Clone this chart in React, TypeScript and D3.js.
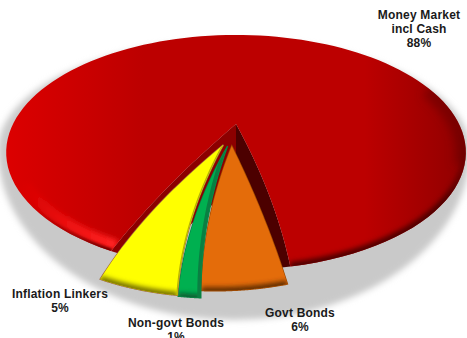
import React from "react";
import * as d3 from "d3";

// Portfolio allocation, clockwise from the lower left of the disc
const categories = ["Money Market incl Cash", "Govt Bonds", "Non-govt Bonds", "Inflation Linkers"];
const shares = [88, 6, 1, 5];

const W = 467;
const H = 338;
const deg = Math.PI / 180;
const START = 206;

// Perspective projection of the unit disc onto the page
const CX = 236;
const CY = 124;
const SX = 223;
const SY = 110.6;
const K = 0.242;
type Pt = [number, number];
const project = (u: number, v: number): Pt => {
  const w = 1 - K * v;
  return [CX + (SX * u) / w, CY + (SY * v) / w];
};

const pie = d3
  .pie<number>()
  .sort(null)
  .value((d) => d)
  .startAngle(START * deg)
  .endAngle((START + 360) * deg);
const arcs = pie(shares);

type Look = {
  au: number; // apex offset on the disc
  av: number;
  du: number; // rim offset on the disc
  dv: number;
  r: number;
  inA: number;
  inB: number;
  bowA: number; // sideways bulge of the two straight sides, in pixels
  bowB: number;
  fill: string;
  wall: string;
  rim: string;
};

const looks: Look[] = [
  { au: 0, av: 0, du: 0, dv: 0, r: 1, inA: 0, inB: -6.5, bowA: -6, bowB: 6, fill: "#c00000", wall: "#4c0000", rim: "#500000" },
  { au: -0.018, av: 0.19, du: -0.07, dv: 0.215, r: 0.89, inA: 1.5, inB: 1.6, bowA: 3, bowB: -7, fill: "#e46c0a", wall: "#a04a00", rim: "#5a2a00" },
  { au: -0.036, av: 0.19, du: -0.06, dv: 0.25, r: 0.89, inA: -0.9, inB: -0.3, bowA: -7, bowB: -9, fill: "#00b050", wall: "#0a7f42", rim: "#0a5a30" },
  { au: -0.054, av: 0.18, du: -0.07, dv: 0.245, r: 0.89, inA: -0.2, inB: 0.4, bowA: -9, bowB: -10, fill: "#ffff00", wall: "#b8b400", rim: "#6f6a00" },
];

const line = d3.line<Pt>().curve(d3.curveLinear);

const arcPoints = (a0: number, a1: number, l: Look): Pt[] =>
  d3.range(0, 1.0001, 1 / 120).map((t) => {
    const a = a0 + (a1 - a0) * t;
    return project(l.du + l.r * Math.sin(a), l.dv - l.r * Math.cos(a));
  });

// A side of a slice, bulging sideways between apex and rim
const side = (from: Pt, to: Pt, bow: number): Pt[] =>
  d3.range(0, 1.0001, 1 / 30).map((t) => [
    from[0] + (to[0] - from[0]) * t + bow * 4 * t * (1 - t),
    from[1] + (to[1] - from[1]) * t,
  ]);

const outline = (i: number): { a: Pt; rim: Pt[]; sa: Pt[]; sb: Pt[] } => {
  const l = looks[i];
  const rim = arcPoints(arcs[i].startAngle + l.inA * deg, arcs[i].endAngle - l.inB * deg, l);
  const a = project(l.au, l.av);
  return { a, rim, sa: side(a, rim[0], l.bowA), sb: side(a, rim[rim.length - 1], l.bowB) };
};

const wedge = (i: number): string => {
  const o = outline(i);
  return (line([...o.sa, ...o.rim, ...[...o.sb].reverse()]) as string) + "Z";
};

const arcRange = (fromDeg: number, toDeg: number, r = 1): string =>
  line(arcPoints(fromDeg * deg, toDeg * deg, { ...looks[0], r })) as string;

// Full disc outline and the walls of the notch left by the exploded slices
const fullDisc = (line(arcPoints(0, 2 * Math.PI, looks[0])) as string) + "Z";
const DEPTH = 60;
const wallPath = (edge: Pt[]): string =>
  (line([...edge, ...[...edge].reverse().map((p): Pt => [p[0], p[1] + DEPTH])]) as string) + "Z";

const shadow = "M-2,150 A236,170 0 0 0 470,150 A236,110 0 0 0 -2,150 Z";

const labels = [
  { lines: ["Money Market", "incl Cash", "88%"], x: 419, y: 19 },
  { lines: ["Inflation Linkers", "5%"], x: 60, y: 298 },
  { lines: ["Non-govt Bonds", "1%"], x: 176, y: 327 },
  { lines: ["Govt Bonds", "6%"], x: 300, y: 317 },
];

export default function App() {
  const red = outline(0);
  const redEnd = START + shares[0] * 3.6 - looks[0].inB;
  return (
    <svg
      width={W}
      height={H}
      viewBox={`0 0 ${W} ${H}`}
      style={{ position: "absolute", left: 0, top: 0, background: "#fff" }}
    >
      <defs>
        <filter id="soft" x="-10%" y="-10%" width="120%" height="120%">
          <feGaussianBlur stdDeviation="3" />
        </filter>
        <filter id="bevel" filterUnits="userSpaceOnUse" x="-20" y="-20" width="510" height="380">
          <feGaussianBlur stdDeviation="2.4" />
        </filter>
        <filter id="wide" filterUnits="userSpaceOnUse" x="-20" y="-20" width="510" height="380">
          <feGaussianBlur stdDeviation="5" />
        </filter>
        <filter id="tight" filterUnits="userSpaceOnUse" x="-20" y="-20" width="510" height="380">
          <feGaussianBlur stdDeviation="1.3" />
        </filter>
        <linearGradient id="redFace" x1="0" y1="0" x2="1" y2="0">
          <stop offset="0" stopColor="#dc0000" />
          <stop offset="0.3" stopColor="#bc0000" />
          <stop offset="0.78" stopColor="#bc0000" />
          <stop offset="1" stopColor="#900000" />
        </linearGradient>
        <linearGradient id="redGlow" gradientUnits="userSpaceOnUse" x1="20" y1="0" x2="110" y2="0">
          <stop offset="0" stopColor="#f01010" stopOpacity="0" />
          <stop offset="0.5" stopColor="#f41414" stopOpacity="0.8" />
          <stop offset="1" stopColor="#ff2020" />
        </linearGradient>
        <linearGradient id="redEdge" gradientUnits="userSpaceOnUse" x1="30" y1="0" x2="110" y2="0">
          <stop offset="0" stopColor="#800000" stopOpacity="0" />
          <stop offset="1" stopColor="#700000" />
        </linearGradient>
        <linearGradient id="redShade" gradientUnits="userSpaceOnUse" x1="0" y1="130" x2="0" y2="200">
          <stop offset="0" stopColor="#5a0000" stopOpacity="0" />
          <stop offset="1" stopColor="#500000" />
        </linearGradient>
        <clipPath id="discClip">
          <path d={fullDisc} />
        </clipPath>
        {arcs.map((_, i) => (
          <clipPath id={`slice${i}`} key={i}>
            <path d={wedge(i)} />
          </clipPath>
        ))}
      </defs>

      <path d={shadow} fill="#c9c9c9" filter="url(#soft)" />

      {/* Dark inner walls of the notch, then the large slice on top */}
      <g clipPath="url(#discClip)">
        <path d={wallPath(red.sa)} fill="#8c0000" />
        <path d={wallPath(red.sb)} fill="#4c0000" />
      </g>
      <path d={wedge(0)} fill="url(#redFace)" />
      <g clipPath="url(#slice0)">
        <path d={arcRange(START, 240, 0.965)} fill="none" stroke="url(#redGlow)" strokeWidth={11} filter="url(#bevel)" />
        <path d={arcRange(START, 235)} fill="none" stroke="url(#redEdge)" strokeWidth={5} filter="url(#tight)" />
        <path d={arcRange(88, redEnd - 360)} fill="none" stroke="url(#redShade)" strokeWidth={9} filter="url(#bevel)" />
        <path d={arcRange(70, 110, 0.99)} fill="none" stroke="#600000" strokeOpacity={0.55} strokeWidth={16} filter="url(#wide)" />
      </g>

      {/* Exploded slices, walls first and faces above them */}
      {[1, 2, 3].map((i) => {
        const o = outline(i);
        return (
          <g key={categories[i]}>
            <path d={wedge(i)} fill={looks[i].wall} stroke={i === 3 ? "#a06a3c" : looks[i].wall} strokeWidth={1.4} />
            <path d={wedge(i)} fill={looks[i].fill} />
            <g clipPath={`url(#slice${i})`}>
              <path d={line(o.rim) as string} fill="none" stroke={looks[i].rim} strokeWidth={7} filter="url(#bevel)" />
              {i === 2 && <path d={line(o.sa) as string} fill="none" stroke={looks[i].wall} strokeWidth={7} />}
              {i === 3 && <path d={line(o.sa) as string} fill="none" stroke={looks[i].wall} strokeWidth={2.5} />}
            </g>
          </g>
        );
      })}

      {labels.map((l) => (
        <text
          key={l.lines[0]}
          x={l.x}
          y={l.y}
          textAnchor="middle"
          fontFamily="'Liberation Sans', Arial, sans-serif"
          fontWeight="bold"
          fontSize={12}
          fill="#1a1a1a"
          letterSpacing={0.2}
        >
          {l.lines.map((t, i) => (
            <tspan key={t} x={l.x} dy={i === 0 ? 0 : 14}>
              {t}
            </tspan>
          ))}
        </text>
      ))}
    </svg>
  );
}
